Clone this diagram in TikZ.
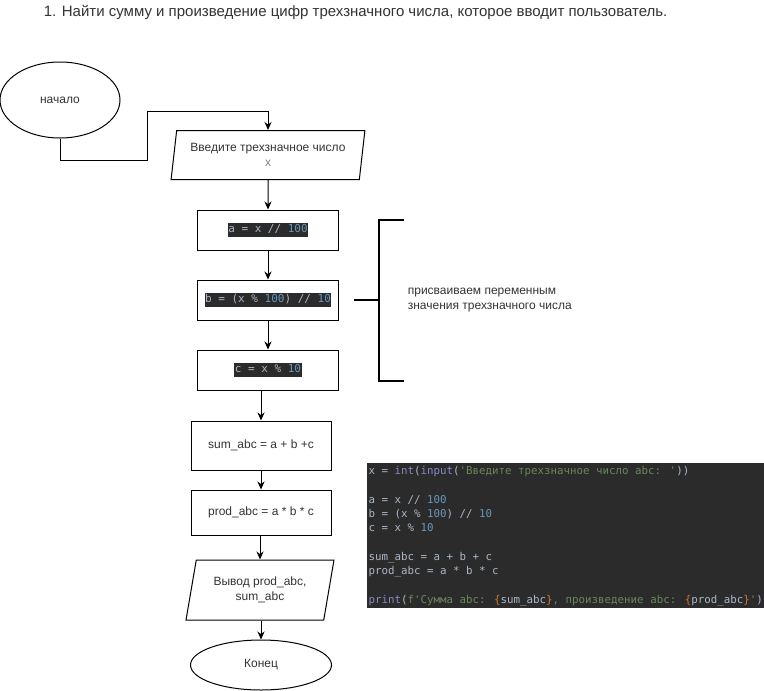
\documentclass[tikz,border=0pt]{standalone}
\usepackage{fontspec}
\setmainfont{Liberation Sans}
\newfontfamily\codefont{DejaVu Sans Mono}
\usetikzlibrary{shapes.geometric,arrows.meta}

\definecolor{codebg}{HTML}{2B2B2B}
\definecolor{codefg}{HTML}{A9B7C6}
\definecolor{codekw}{HTML}{8888C6}
\definecolor{codestr}{HTML}{6A8759}
\definecolor{codenum}{HTML}{6897BB}
\definecolor{codebr}{HTML}{CC7832}
\definecolor{txtgray}{HTML}{333333}

\newcommand{\cnum}[1]{\textcolor{codenum}{#1}}
\newcommand{\ckw}[1]{\textcolor{codekw}{#1}}
\newcommand{\cstr}[1]{\textcolor{codestr}{#1}}
\newcommand{\cbr}[1]{\textcolor{codebr}{#1}}
\newcommand{\cd}[1]{{\setlength{\fboxsep}{0.5pt}\colorbox{codebg}{\codefont\fontsize{11}{13}\selectfont\color{codefg}\strut #1}}}

\tikzset{
  proc/.style={draw, rectangle, inner sep=0pt, minimum width=141pt, minimum height=40pt},
  startstop/.style={draw, ellipse, inner sep=0pt},
  io/.style={draw, trapezium, trapezium stretches=true, inner sep=0pt, align=center},
}

\begin{document}
\begin{tikzpicture}[x=1pt, y=-1pt, >={Stealth[length=8pt, width=7pt]}, line width=1pt, every node/.style={font=\fontsize{12}{15}\selectfont, text=txtgray}]
\useasboundingbox (0,0) rectangle (764,691);

\node[anchor=west, font=\fontsize{15}{17}\selectfont] (title) at (40,12) {1. Найти сумму и произведение цифр трехзначного числа, которое вводит пользователь.};

% flowchart
\node[startstop, minimum width=120pt, minimum height=76pt] (start) at (60,100) {начало};
\node[io, trapezium left angle=78.5, trapezium right angle=101.5, minimum width=194pt, minimum height=49pt] (inp) at (268,155) {Введите трехзначное число\\ \textcolor{gray}{x}};
\node[proc] (sa) at (268,230) {\cd{a = x // \cnum{100}}};
\node[proc] (sb) at (268,300) {\cd{b = (x \% \cnum{100}) // \cnum{10}}};
\node[proc] (sc) at (268,370) {\cd{c = x \% \cnum{10}}};
\node[proc, minimum width=140pt, minimum height=49pt] (sum) at (261,445.5) {sum\_abc = a + b +c};
\node[proc, minimum width=140pt, minimum height=45pt] (prod) at (261,512.5) {prod\_abc = a * b * c};
\node[io, trapezium left angle=74, trapezium right angle=106, minimum width=148pt, minimum height=60pt] (out) at (260,590) {Вывод prod\_abc,\\ sum\_abc};
\node[startstop, minimum width=141pt, minimum height=50pt] (end) at (261,665) {Конец};

\coordinate (bendlow) at (147,160);
\coordinate (bendhigh) at (147,111);
\draw[->] (start.south) |- (bendlow) -- (bendhigh) -| (inp.north);
\draw[->] (inp) -- (sa);
\draw[->] (sa) -- (sb);
\draw[->] (sb) -- (sc);
\draw[->] (sc.south -| sum.north) -- (sum.north);
\draw[->] (sum) -- (prod);
\draw[->] (prod.south -| out.north) -- (out.north);
\draw[->] (out.south -| end.north) -- (end.north);

% bracket
\coordinate (brtop) at (404,220);
\coordinate (brbot) at (404,381);
\coordinate (brmid) at (379,300);
\coordinate (brstub) at (354,300);
\draw[line width=2pt] (brtop) -- (379,220) -- (379,381) -- (brbot);
\draw[line width=2pt] (brstub) -- (brmid);
\node[anchor=west, align=left] (note) at (404,300) {присваиваем переменным\\значения трехзначного числа};

% code
\fill[codebg] (367,463) rectangle (764,608);
\node[anchor=north west, align=left, inner sep=0pt, font=\codefont\fontsize{10.8}{14.3}\selectfont, text=codefg] (code) at (368,466) {x = \ckw{int}(\ckw{input}(\cstr{'Введите трехзначное число abc: '}))\\[14.3pt]
a = x // \cnum{100}\\
b = (x \% \cnum{100}) // \cnum{10}\\
c = x \% \cnum{10}\\[14.3pt]
sum\_abc = a + b + c\\
prod\_abc = a * b * c\\[14.3pt]
\ckw{print}(\cstr{f'Сумма abc: }\cbr{\{}sum\_abc\cbr{\}}\cstr{, произведение abc: }\cbr{\{}prod\_abc\cbr{\}}\cstr{'})};
\end{tikzpicture}
\end{document}
